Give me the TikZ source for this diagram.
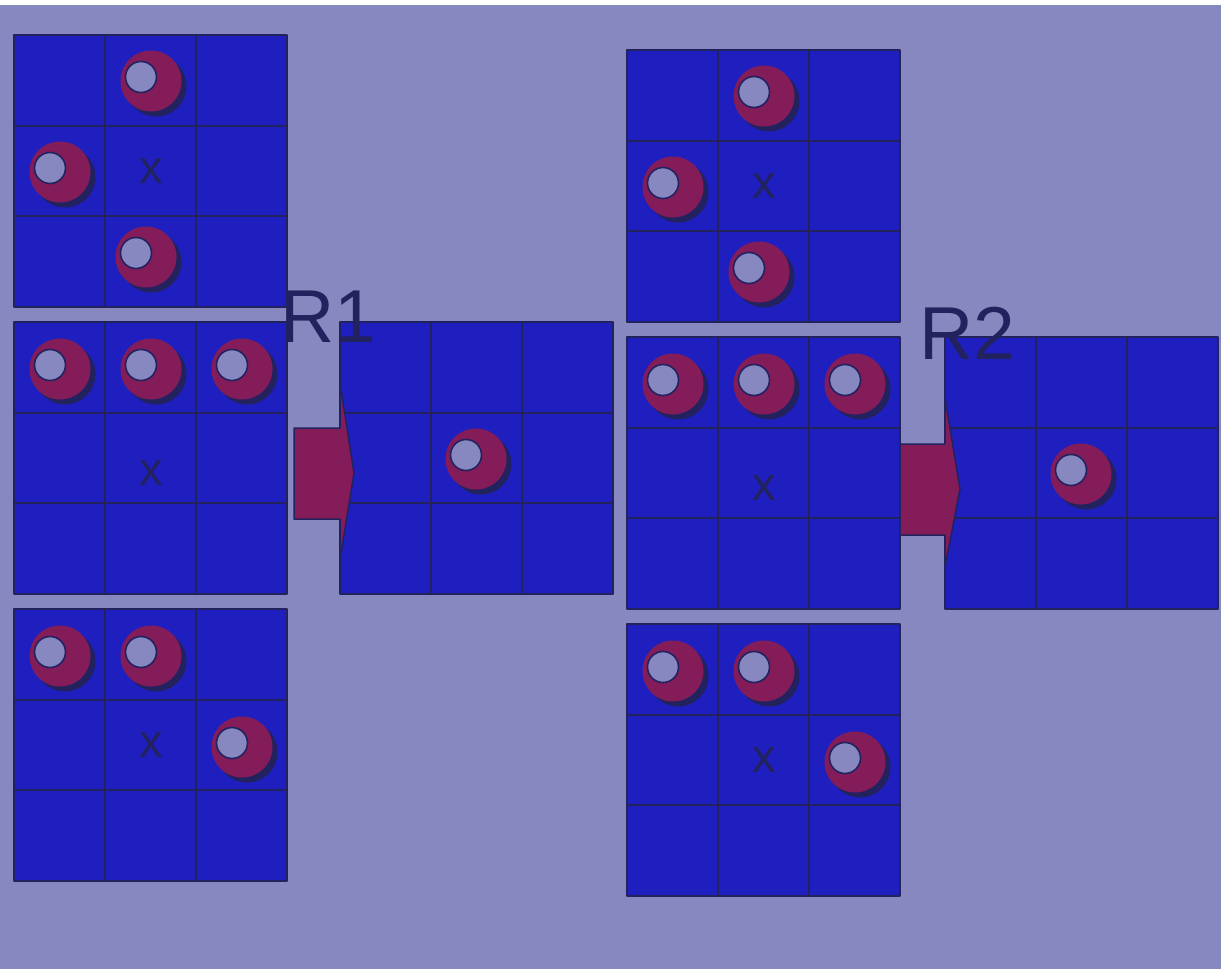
\documentclass[tikz,border=0pt]{standalone}
\usepackage{fontspec}
\setmainfont{Liberation Sans}
\definecolor{bglilac}{RGB}{136,136,192}
\definecolor{cellblue}{RGB}{31,31,191}
\definecolor{inknavy}{RGB}{34,34,94}
\definecolor{ballred}{RGB}{132,28,90}
\begin{document}
\begin{tikzpicture}[x=1pt,y=-1pt,line join=round,line cap=round,
	board/.style={fill=cellblue,draw=inknavy,line width=2.2pt},
	gridline/.style={draw=inknavy,line width=2pt},
	bigarrow/.style={fill=ballred,draw=inknavy,line width=1.5pt},
	hole/.style={fill=bglilac,draw=inknavy,line width=1.6pt},
	centremark/.style={text=inknavy,inner sep=0pt,font=\fontsize{47}{47}\selectfont},
	rulelabel/.style={text=inknavy,inner sep=0pt,font=\fontsize{75}{75}\selectfont}]
	\useasboundingbox (0,0) rectangle (1221,969);
	\fill[white] (0,0) rectangle (1221,5);
	\fill[bglilac] (0,5) rectangle (1221,969);
	% boards
	\foreach \gx/\gy in {14/35,14/322,14/609,340/322,627/50,627/337,627/624,945/337}{
		\filldraw[board] (\gx,\gy) rectangle ++(273,272);
		\draw[gridline] (\gx+91,\gy) -- ++(0,272) (\gx+182,\gy) -- ++(0,272)
		(\gx,\gy+91) -- ++(273,0) (\gx,\gy+181) -- ++(273,0);
	}
	% balls
	\foreach \bx/\by in {151/81,60/172,146/257,60/369,151/369,242/369,60/656,151/656,242/747,476/459,
		764/96,673/187,759/272,673/384,764/384,855/384,673/671,764/671,855/762,1081/474}{
		\fill[inknavy] (\bx+5,\by+5) circle (30.5pt);
		\fill[ballred] (\bx,\by) circle (30.5pt);
		\filldraw[hole] (\bx-10,\by-4) circle (15.5pt);
	}
	% arrows
	\filldraw[bigarrow] (294,428) -- (340,428) -- (340,383) -- (354,473) -- (340,560) -- (340,519) -- (294,519) -- cycle;
	\filldraw[bigarrow] (900,444) -- (945,444) -- (945,398) -- (960,489) -- (945,567) -- (945,535) -- (900,535) -- cycle;
	% labels
	\node[centremark] (xa) at (151,171) {x};
	\node[centremark] (xb) at (151,473) {x};
	\node[centremark] (xc) at (151,745) {x};
	\node[centremark] (xd) at (764,186) {x};
	\node[centremark] (xe) at (764,488) {x};
	\node[centremark] (xf) at (764,760) {x};
	\node[rulelabel] (ra) at (328,317) {R1};
	\node[rulelabel] (rb) at (967,333) {R2};
\end{tikzpicture}
\end{document}
